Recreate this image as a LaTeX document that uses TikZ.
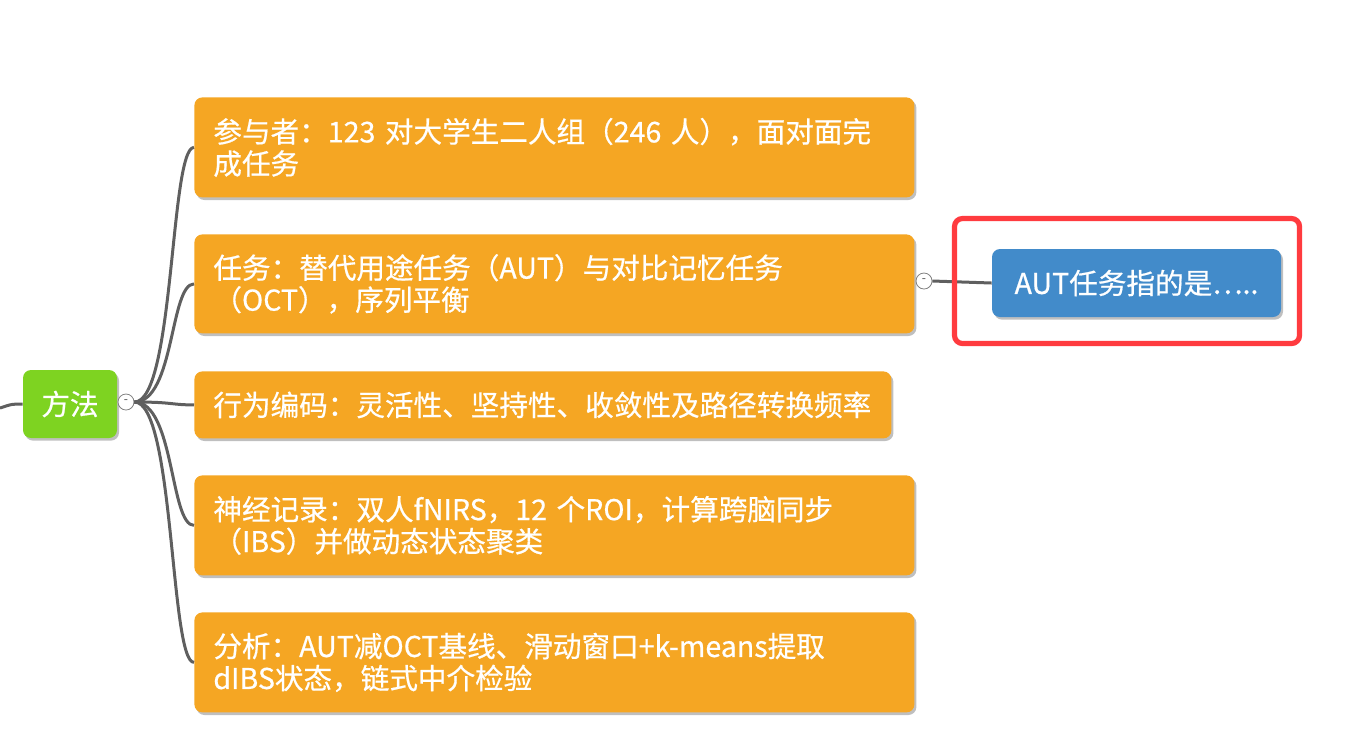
\documentclass[tikz,border=0pt]{standalone}
\usepackage{fontspec}
\setmainfont{Noto Sans CJK SC}
\newfontfamily\topicfont{Noto Sans CJK SC}[FakeBold=0.6]
\usetikzlibrary{shadows}

\definecolor{methodgreen}{HTML}{7ED321}
\definecolor{branchorange}{HTML}{F5A623}
\definecolor{notesblue}{HTML}{428BCA}
\definecolor{markred}{HTML}{FF3B3F}
\definecolor{linkgray}{HTML}{5F5F5F}

\tikzset{
	topic/.style={rounded corners=4pt, text=white, font=\topicfont\fontsize{14.3}{16}\selectfont,
		inner xsep=9.5pt, inner ysep=0pt,
		drop shadow={shadow xshift=1pt, shadow yshift=-1.3pt, opacity=0.5}},
	roottopic/.style={topic, fill=methodgreen, minimum width=47pt, minimum height=34pt, inner xsep=0pt},
	branchtopic/.style={topic, fill=branchorange, anchor=north west, align=left, text width=#1},
	leaftopic/.style={topic, fill=notesblue, minimum width=144.5pt, minimum height=34pt, inner xsep=0pt},
	knob/.style={circle, draw=gray, fill=white, line width=0.4pt, minimum size=8pt, inner sep=0pt,
		font=\fontsize{6}{6}\selectfont, text=black!70},
	link/.style={draw=linkgray, line width=1.5pt},
}

\begin{document}
\begin{tikzpicture}[x=0.5pt, y=-0.5pt]
	%%%%% START %%%%%
	\useasboundingbox (0,0) rectangle (1354,730);
	
	\coordinate (parentin) at (0,408);
	\node[roottopic] (root) at (70,404) {方法};
	\node[knob] (rootknob) at (126,402) {-};
	
	\node[branchtopic=341pt, minimum height=50pt] (n1) at (194,97)
		{参与者：123 对大学生二人组（246 人），面对面完\\成任务};
	\node[branchtopic=341pt, minimum height=49.5pt] (n2) at (194,234)
		{任务：替代用途任务（AUT）与对比记忆任务\\（OCT），序列平衡};
	\node[branchtopic=329.5pt, minimum height=33.5pt] (n3) at (194,371)
		{行为编码：灵活性、坚持性、收敛性及路径转换频率};
	\node[branchtopic=341pt, minimum height=50pt] (n4) at (194,475)
		{神经记录：双人fNIRS，12 个ROI，计算跨脑同步\\（IBS）并做动态状态聚类};
	\node[branchtopic=341pt, minimum height=50pt] (n5) at (194,612)
		{分析：AUT减OCT基线、滑动窗口+k-means提取\\dIBS状态，链式中介检验};
	
	\node[knob] (n2knob) at (924,281) {-};
	\node[leaftopic] (aut) at (1136.5,283) {AUT任务指的是…..};
	
	% connectors
	\draw[link] (parentin) .. controls (12,404) .. (root.west);
	\foreach \n in {n1,n2,n3,n4,n5}
		\draw[link] (rootknob.east) .. controls +(40,0) and +(-24,0) .. (\n.west);
	\draw[link] (n2knob.east) -- (aut.west);
	
	% highlight
	\draw[markred, line width=2.6pt, rounded corners=4pt] (954.5,218.5) rectangle (1299.5,343.5);
	%%%%% END %%%%%
\end{tikzpicture}
\end{document}
